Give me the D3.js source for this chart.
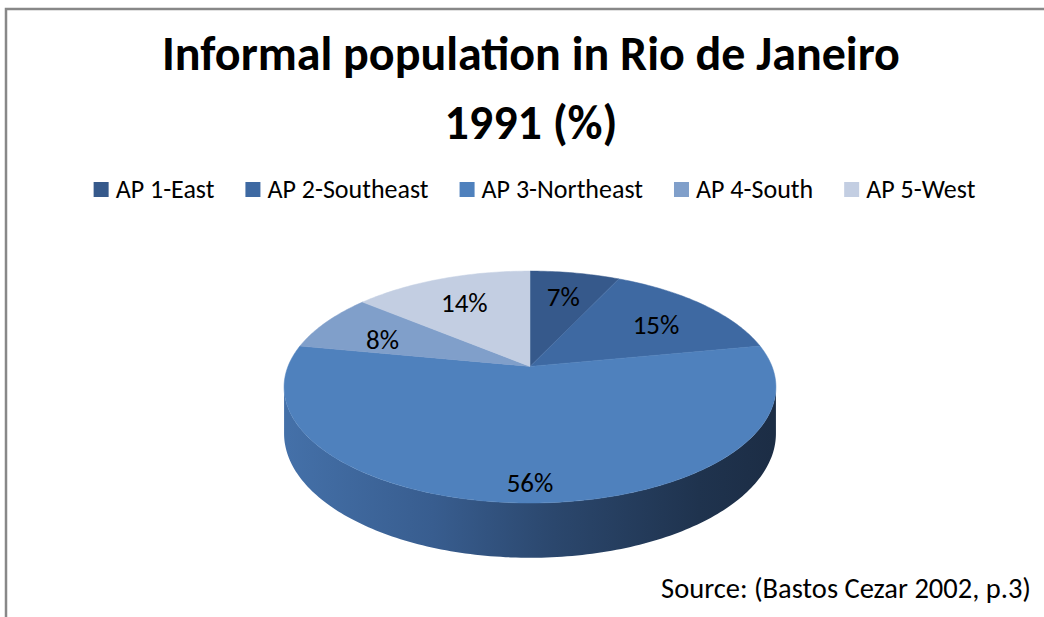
<!DOCTYPE html>
<html>
<head>
<meta charset="utf-8">
<script src="https://cdn.jsdelivr.net/npm/d3@7"></script>
<style>
  body { margin: 0; background: #fff; }
  text { font-family: Carlito, Calibri, Lato, sans-serif; fill: #000; }
</style>
</head>
<body>
<div id="chart"></div>
<script>
// data
const regions = ["AP 1-East", "AP 2-Southeast", "AP 3-Northeast", "AP 4-South", "AP 5-West"];
const shares = [7, 15, 56, 8, 14];
const colors = ["#36598b", "#3e69a2", "#4f81bd", "#809fca", "#c3cee2"];
const titleLines = ["Informal population in Rio de Janeiro", "1991 (%)"];
const sourceNote = "Source: (Bastos Cezar 2002, p.3)";

const W = 1044, H = 617;

const svg = d3.select("#chart").append("svg")
    .attr("width", W)
    .attr("height", H);

// frame (only top and left edges show in the picture)
svg.append("path")
    .attr("d", `M6,${H} L6,9 L${W},9`)
    .attr("fill", "none")
    .attr("stroke", "#888")
    .attr("stroke-width", 2.5);

// title
svg.append("text")
    .attr("x", 531).attr("y", 70)
    .attr("text-anchor", "middle")
    .style("font-size", "48px").style("font-weight", "bold")
    .text(titleLines[0]);
svg.append("text")
    .attr("x", 531).attr("y", 139)
    .attr("text-anchor", "middle")
    .style("font-size", "48px").style("font-weight", "bold")
    .text(titleLines[1]);

// legend, laid out left to right from measured text
const legend = svg.append("g");
let lx = 0;
regions.forEach((r, i) => {
    const g = legend.append("g").attr("transform", `translate(${lx},0)`);
    g.append("rect")
        .attr("x", 0).attr("y", -8)
        .attr("width", 15).attr("height", 15)
        .attr("fill", colors[i]);
    const t = g.append("text")
        .attr("x", 22).attr("y", 8)
        .style("font-size", "26px")
        .text(r);
    lx += 22 + t.node().getComputedTextLength() + 31;
});
lx -= 31;
legend.attr("transform", `translate(${534.5 - lx / 2},190)`);

// 3D pie: perspective-projected disc
const cx = 530, cy = 366.4;
const A = 242, B = 112.3, p = 0.178, depth = 45;

const project = (theta, r, drop) => {
    const u = r * Math.sin(theta), v = r * Math.cos(theta);
    const s = 1 / (1 + p * v);
    return [cx + A * u * s, cy - B * v * s + (drop || 0) * s];
};

const pie = d3.pie().sort(null).value(d => d)(shares);
const line = d3.line();
const step = Math.PI / 180;

const defs = svg.append("defs");
const grad = defs.append("linearGradient")
    .attr("id", "side")
    .attr("gradientUnits", "userSpaceOnUse")
    .attr("x1", cx - A).attr("x2", cx + A)
    .attr("y1", 0).attr("y2", 0);
[["0", "#4470a8"], ["0.3", "#385d8f"], ["0.55", "#2b476d"], ["0.85", "#1f334e"], ["1", "#1c2d45"]]
    .forEach(([o, c]) => grad.append("stop").attr("offset", o).attr("stop-color", c));

// visible front wall: between the two silhouette points (cos = -p)
const silR = Math.acos(-p), silL = 2 * Math.PI - Math.acos(-p);
const topRim = d3.range(silR, silL, step).concat([silL]).map(t => project(t, 1, 0));
const botRim = d3.range(silL, silR, -step).concat([silR]).map(t => project(t, 1, depth));
svg.append("path")
    .attr("d", line(topRim.concat(botRim)) + "Z")
    .attr("fill", "url(#side)");

// top faces
svg.append("g").selectAll("path")
    .data(pie)
    .join("path")
    .attr("d", d => {
        const pts = [project(0, 0)];
        d3.range(d.startAngle, d.endAngle, step).concat([d.endAngle])
            .forEach(t => pts.push(project(t, 1)));
        return line(pts) + "Z";
    })
    .attr("fill", (d, i) => colors[i])
    .attr("stroke", (d, i) => colors[i])
    .attr("stroke-width", 0.5);

// slice labels
const labelPos = d => project((d.startAngle + d.endAngle) / 2, 0.71, depth * 0.5 * (1 - Math.cos((d.startAngle + d.endAngle) / 2)) / 2);
svg.append("g").selectAll("text")
    .data(pie)
    .join("text")
    .attr("x", d => labelPos(d)[0])
    .attr("y", d => labelPos(d)[1] + 9)
    .attr("text-anchor", "middle")
    .style("font-size", "27px")
    .text(d => d.data + "%");

// source note
svg.append("text")
    .attr("x", 1031).attr("y", 598)
    .attr("text-anchor", "end")
    .style("font-size", "28.5px")
    .text(sourceNote);
</script>
</body>
</html>
